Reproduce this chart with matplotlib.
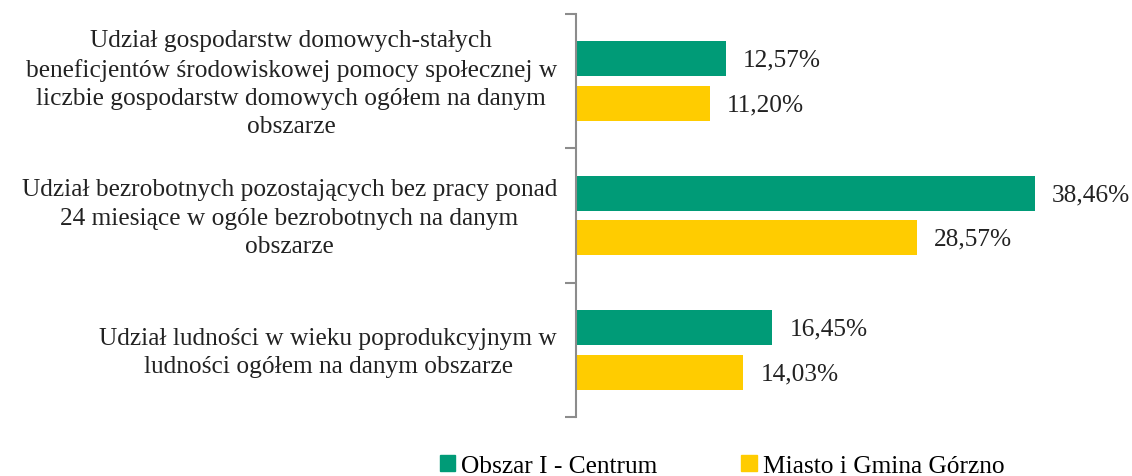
import matplotlib
matplotlib.use("Agg")
import matplotlib.pyplot as plt
from matplotlib.patches import Patch

categories = [
    "Udział gospodarstw domowych-stałych\nbeneficjentów środowiskowej pomocy społecznej w\nliczbie gospodarstw domowych ogółem na danym\nobszarze",
    "Udział bezrobotnych pozostających bez pracy ponad\n24 miesiące w ogóle bezrobotnych na danym\nobszarze",
    "Udział ludności w wieku poprodukcyjnym w\nludności ogółem na danym obszarze",
]
series_names = ["Obszar I - Centrum", "Miasto i Gmina Górzno"]
obszar = [12.57, 38.46, 16.45]
gmina = [11.20, 28.57, 14.03]
colors = ["#009B77", "#FFCC00"]

plt.rcParams['font.family'] = ['Liberation Serif', 'DejaVu Serif']
FS = 18.3

fig = plt.figure(figsize=(11.32, 4.77), dpi=100)
ax = fig.add_axes([576/1132, 1-418/477, (1113-576)/1132, (418-15)/477])

y = list(range(len(categories)))
h = 0.26
off = 0.167
ax.barh([v - off for v in y], obszar, height=h, color=colors[0], zorder=2)
ax.barh([v + off for v in y], gmina, height=h, color=colors[1], zorder=2)

for vals, sgn in ((obszar, -1), (gmina, 1)):
    for i, v in enumerate(vals):
        ax.annotate(f"{v:.2f}%".replace('.', ','), xy=(v, i + sgn*off), xytext=(17, -1),
                    textcoords='offset pixels', va='center', ha='left', fontsize=FS, color='#222222')

ax.set_xlim(0, 45)
ax.set_ylim(2.5, -0.5)
ax.set_yticks([-0.5, 0.5, 1.5, 2.5])
ax.set_yticklabels([])
ax.tick_params(axis='y', length=8, width=1.5, color='#8c8c8c', direction='out')
ax.set_xticks([])
for s in ['top', 'right', 'bottom']:
    ax.spines[s].set_visible(False)
ax.spines['left'].set_color('#8c8c8c')
ax.spines['left'].set_linewidth(1.5)

for i, c in enumerate(categories):
    ax.annotate(c, xy=(0, i), xytext=(-19, -2), textcoords='offset pixels',
                ha='right', va='center', multialignment='center', fontsize=FS, color='#222222',
                linespacing=1.37, annotation_clip=False)

handles = [Patch(color=colors[0]), Patch(color=colors[1])]
fig.legend(handles, series_names, loc='center', bbox_to_anchor=(722/1132, 1-467/477),
           ncol=2, frameon=False, fontsize=FS, handlelength=0.6, handleheight=0.6,
           handletextpad=0.25, columnspacing=3.3, borderpad=0)

fig.savefig("out.png", dpi=100)
